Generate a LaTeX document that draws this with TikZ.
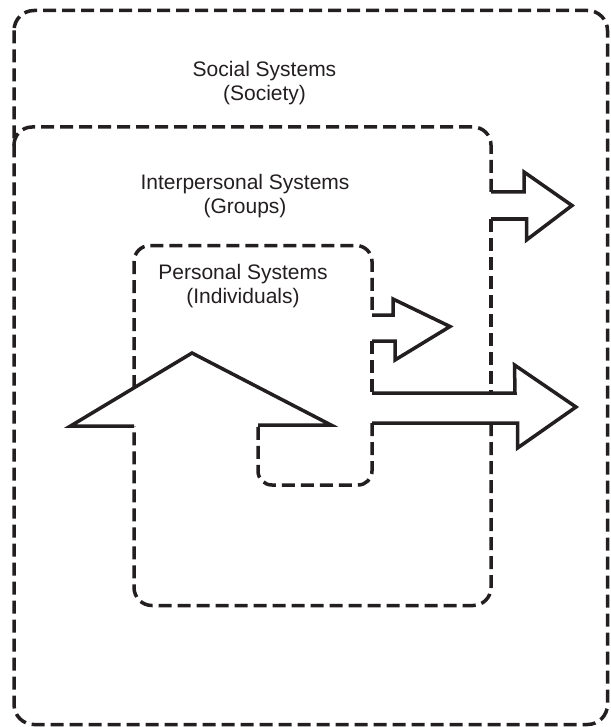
\documentclass[tikz,border=0pt]{standalone}
\usepackage{fontspec}
\setmainfont{Liberation Sans}
\definecolor{syscolor0}{HTML}{231F20}
\tikzset{
    x={1pt},
    y={-1pt},
    system boundary/.style={
        draw={#1},
        line width={3.5pt},
        dash pattern={on 13pt off 6pt},
    },
    system boundary/.default={syscolor0},
    flow arrow/.style={
        draw={#1}, fill=white,
        line width={3.5pt},
        line join=miter,
    },
    flow arrow/.default={syscolor0},
    system label/.style={
        font={\fontsize{21}{24.5}\selectfont\color{#1}},
        align=center,
        inner sep=0pt, outer sep=0pt,
    },
    system label/.default={syscolor0},
}

\begin{document}
\begin{tikzpicture}
\useasboundingbox (0,0) rectangle (610,727);
% social system
\draw[system boundary, rounded corners={20pt}] (14,10.5) rectangle (607.5,724.5);
% interpersonal system
\draw[system boundary, rounded corners={18pt}] (491,192) -- (491,127) -- (14,127) -- (14,147);
\draw[system boundary] (491,219) -- (491,393);
\draw[system boundary, rounded corners={18pt}] (491,423) -- (491,605.5) -- (134,605.5) -- (134,426);
% personal system
\draw[system boundary, rounded corners={16pt}] (134,388) -- (134,245.5) -- (372,245.5) -- (372,315);
\draw[system boundary] (372,341) -- (372,393);
\draw[system boundary, rounded corners={14pt}] (372,423) -- (372,485) -- (258,485) -- (258,425);
% arrows
\path[flow arrow] (491,192) -- (524,192) -- (524,172) -- (572,205.5) -- (526.5,240) -- (526.5,219) -- (491,219);
\path[flow arrow] (372,315) -- (393,315) -- (393,299) -- (450,326.5) -- (395,360) -- (395,341) -- (372,341);
\path[flow arrow] (372,393) -- (515,393) -- (514.5,365) -- (576,407) -- (517.5,448) -- (517.5,423) -- (372,423);
\path[flow arrow] (134,426) -- (70.5,426) -- (192,353) -- (331,425) -- (258,425);
% labels
\node[system label] (social) at (264.5,83) {Social Systems\\(Society)};
\node[system label] (interpersonal) at (245,196) {Interpersonal Systems\\(Groups)};
\node[system label] (personal) at (243,286) {Personal Systems\\(Individuals)};
\end{tikzpicture}
\end{document}
